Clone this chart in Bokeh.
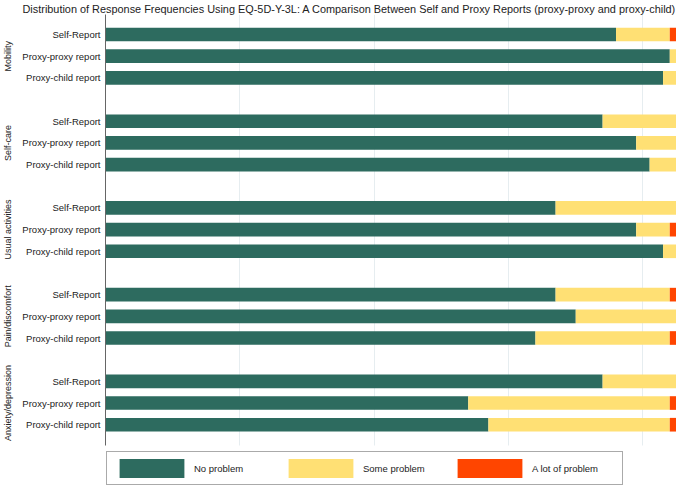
from bokeh.plotting import figure
from bokeh.models import (ColumnDataSource, Range1d, FixedTicker, LinearAxis,
                          Legend, LegendItem)
from bokeh.embed import file_html
from bokeh.resources import INLINE

# ---- data (counts, N = 85 per report type) ----
dimensions = ["Mobility", "Self-care", "Usual activities", "Pain/discomfort", "Anxiety/depression"]
reporters = ["Self-Report", "Proxy-proxy report", "Proxy-child report"]
levels = ["No problem", "Some problem", "A lot of problem"]

no_problem = [76, 84, 83, 74, 79, 81, 67, 79, 83, 67, 70, 64, 74, 54, 57]
some_problem = [8, 1, 2, 11, 6, 4, 18, 5, 2, 17, 15, 20, 11, 30, 27]
a_lot_of_problem = [1, 0, 0, 0, 0, 0, 0, 1, 0, 1, 0, 1, 0, 1, 1]

grid_ticks = [20, 40, 60, 80]
colors = ["#2d6b5f", "#ffe074", "#ff4500"]

title_text = ("Distribution of Response Frequencies Using EQ-5D-Y-3L: A Comparison Between "
              "Self and Proxy Reports (proxy-proxy and proxy-child)")

# ---- layout of rows: 3 bars per dimension, one empty slot between groups ----
ypos, ylabels, group_centers = [], [], []
for g, d in enumerate(dimensions):
    for j, r in enumerate(reporters):
        ypos.append(g * 4 + j)
        ylabels.append(r)
    group_centers.append(g * 4 + 1)

source = ColumnDataSource(dict(y=ypos, no=no_problem, some=some_problem, alot=a_lot_of_problem))

total = no_problem[0] + some_problem[0] + a_lot_of_problem[0]
y_top, y_axis_end, y_bottom = -0.923, 18.97, 20.85

p = figure(width=676, height=486, output_backend="svg", toolbar_location=None,
           x_range=Range1d(0, total), y_range=Range1d(y_bottom, y_top),
           x_axis_location=None,
           min_border_left=102, min_border_right=0, min_border_top=0, min_border_bottom=0)
p.outline_line_color = None
p.background_fill_color = "white"

renderers = p.hbar_stack(["no", "some", "alot"], y="y", height=0.63, color=colors,
                         line_color=None, source=source)

# grid
p.ygrid.visible = False
p.xgrid.ticker = FixedTicker(ticks=grid_ticks)
p.xgrid.grid_line_color = "#e6edf0"
p.xgrid.grid_line_width = 1
try:
    p.xgrid.cross_bounds = (y_top, y_axis_end)
except Exception:
    pass

# bar-label axis
ya = p.yaxis[0]
ya.ticker = FixedTicker(ticks=ypos)
ya.major_label_overrides = {y: lab for y, lab in zip(ypos, ylabels)}
ya.major_tick_line_color = None
ya.minor_tick_line_color = None
ya.major_tick_out = 0
ya.major_tick_in = 0
ya.major_label_standoff = 5
ya.axis_line_color = "#666666"
ya.bounds = (y_top, y_axis_end)
ya.major_label_text_font = "Liberation Sans"
ya.major_label_text_font_size = "9.5px"
ya.major_label_text_color = "#222222"

# group-label axis
ga = LinearAxis(ticker=FixedTicker(ticks=group_centers),
                major_label_overrides={c: d for c, d in zip(group_centers, dimensions)},
                major_label_orientation="parallel",
                axis_line_color=None, major_tick_line_color=None, minor_tick_line_color=None,
                major_tick_out=0, major_tick_in=0,
                major_label_standoff=6,
                major_label_text_font="Liberation Sans",
                major_label_text_font_size="9px",
                major_label_text_color="#222222")
p.add_layout(ga, "left")

# title
p.title.text = title_text
p.title.align = "left"
p.title.offset = -83
p.title.text_font = "Liberation Sans"
p.title.text_font_size = "10.9px"
p.title.text_font_style = "normal"
p.title.text_color = "#222222"
p.title.standoff = 0

# legend (inside the canvas, below the bars)
items = [LegendItem(label=lev, renderers=[r]) for lev, r in zip(levels, renderers)]
legend = Legend(items=items, orientation="horizontal", glyph_width=81, glyph_height=24,
                label_height=24, label_width=86, label_standoff=2, spacing=0,
                padding=4, margin=1,
                border_line_color="#555555", border_line_width=1,
                background_fill_color="white", background_fill_alpha=1.0,
                label_text_font="Liberation Sans", label_text_font_size="9.5px",
                label_text_color="#222222", location="bottom_left")
p.add_layout(legend, "center")

open("out.html", "w").write(file_html(p, INLINE))
